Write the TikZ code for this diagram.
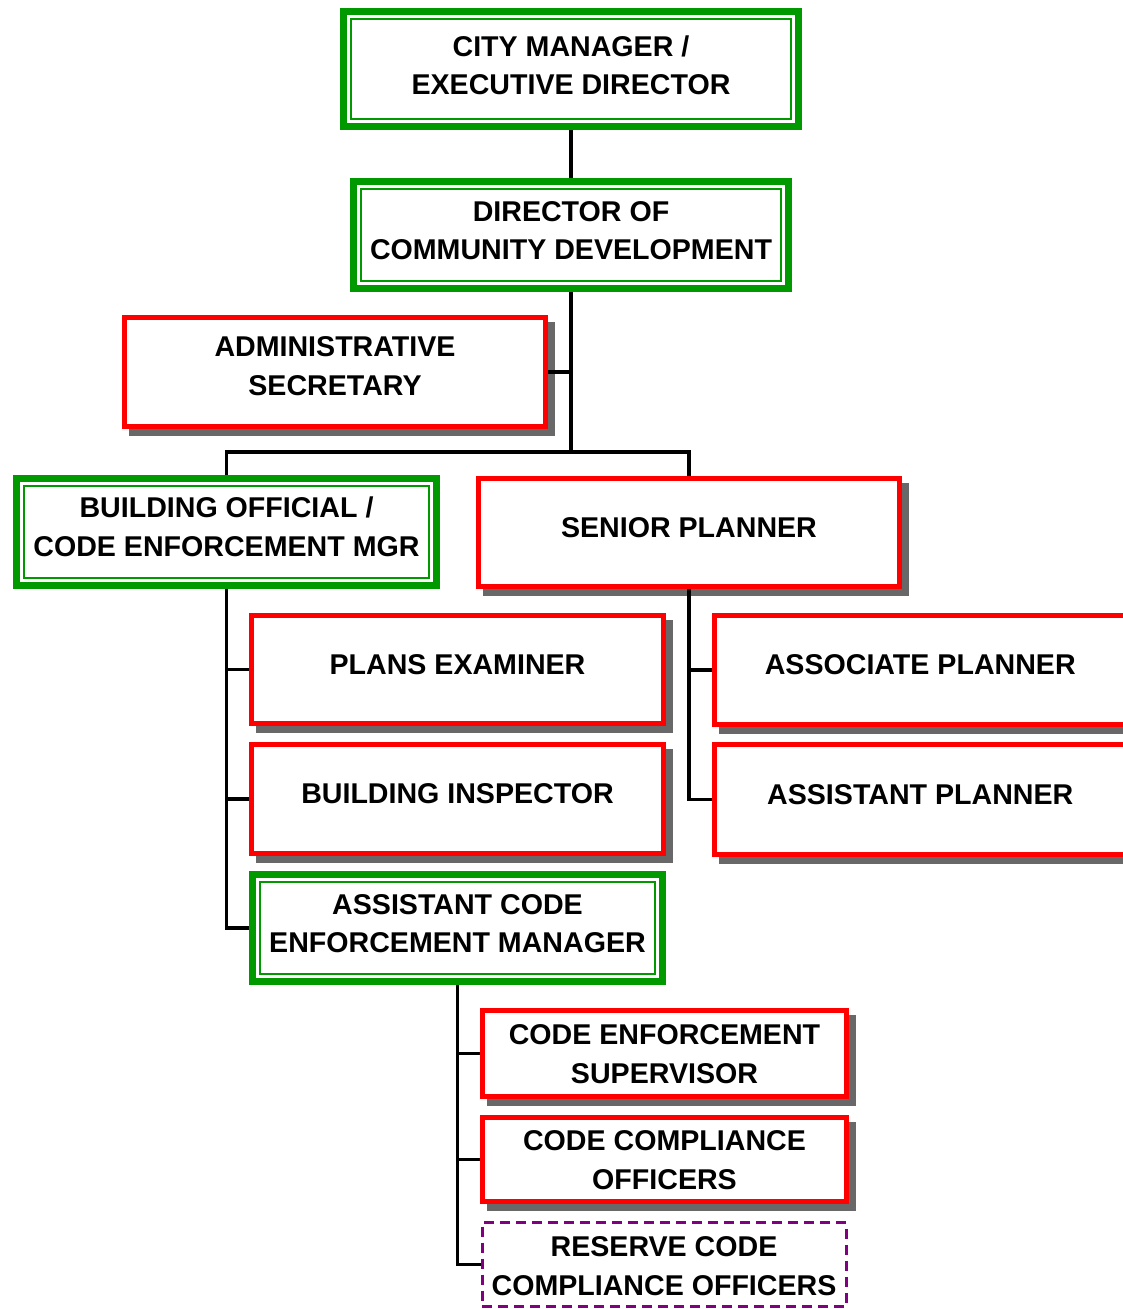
\documentclass[tikz,border=0pt]{standalone}
\usepackage{fontspec}
\setmainfont{Liberation Sans}
\pgfdeclarelayer{background}
\pgfsetlayers{background,main}
\definecolor{chartgreen}{RGB}{0,153,0}
\definecolor{chartred}{RGB}{255,0,0}
\definecolor{chartpurple}{RGB}{128,0,128}
\definecolor{shadowgray}{RGB}{104,104,104}
\tikzset{
  unit/.style={rectangle, fill=white, inner sep=0pt},
  redunit/.style={unit, draw=chartred, line width=5pt},
  greenunit/.style={unit, draw=chartgreen, line width=7pt},
  reserveunit/.style={unit, draw=chartpurple, line width=3pt, dash pattern=on 10pt off 6pt},
  lbl/.style={align=center, font=\fontsize{28.6}{38.5}\selectfont\bfseries, inner sep=0pt},
  link/.style={draw=black, line width=3.5pt}
}
% #1 style, #2 name, #3-#6 border corners (x1,y1,x2,y2), #7 title, #8 title lift
\newcommand\unitbox[8]{%
  \node[#1, minimum width={#5-#3}, minimum height={#6-#4}] (#2) at ({(#3+#5)/2},{(#4+#6)/2}) {};
  \node[lbl] (#2-text) at ([yshift=#8]#2.center) {#7};}
% grey drop shadow behind a box
\newcommand\unitshadow[1]{%
  \begin{pgfonlayer}{background}
    \fill[shadowgray] ([shift={(6.5,6.5)}]#1.north west) rectangle ([shift={(6.5,6.5)}]#1.south east);
  \end{pgfonlayer}}
% thin inner frame of the green boxes
\newcommand\innerrule[1]{%
  \draw[chartgreen, line width=2pt] ([shift={(11,11)}]#1.north west) rectangle ([shift={(-11,-11)}]#1.south east);}

\begin{document}
\begin{tikzpicture}[x=1pt, y=-1pt]
\useasboundingbox (0,0) rectangle (1123,1309);

% management
\unitbox{greenunit}{cm}{343.5}{11.5}{798.5}{126.5}{CITY MANAGER /\\EXECUTIVE DIRECTOR}{3.5pt}
\innerrule{cm}
\unitbox{greenunit}{dcd}{353.5}{181.5}{788.5}{288.5}{DIRECTOR OF\\COMMUNITY DEVELOPMENT}{4.5pt}
\innerrule{dcd}
\unitbox{redunit}{as}{124.5}{317.5}{545.5}{426.5}{ADMINISTRATIVE\\SECRETARY}{6pt}
\unitshadow{as}

% divisions
\unitbox{greenunit}{bo}{16.5}{478.5}{436.5}{585.5}{BUILDING OFFICIAL /\\CODE ENFORCEMENT MGR}{5pt}
\innerrule{bo}
\unitbox{redunit}{sp}{478.5}{478.5}{899.5}{586.5}{SENIOR PLANNER}{5pt}
\unitshadow{sp}

% building side
\unitbox{redunit}{pe}{251.5}{615.5}{663.5}{723.5}{PLANS EXAMINER}{5pt}
\unitshadow{pe}
\unitbox{redunit}{bi}{251.5}{744.5}{663.5}{853.5}{BUILDING INSPECTOR}{5pt}
\unitshadow{bi}
\unitbox{greenunit}{acem}{252.5}{874.5}{662.5}{981.5}{ASSISTANT CODE\\ENFORCEMENT MANAGER}{4.5pt}
\innerrule{acem}

% planning side
\unitbox{redunit}{ap1}{714.5}{615.5}{1126}{724.5}{ASSOCIATE PLANNER}{5pt}
\unitshadow{ap1}
\unitbox{redunit}{ap2}{714.5}{744.5}{1126}{854.5}{ASSISTANT PLANNER}{5pt}
\unitshadow{ap2}

% code enforcement
\unitbox{redunit}{ces}{482.5}{1010.5}{846.5}{1096.5}{CODE ENFORCEMENT\\SUPERVISOR}{-0.5pt}
\unitshadow{ces}
\unitbox{redunit}{cco}{482.5}{1117.5}{846.5}{1201.5}{CODE COMPLIANCE\\OFFICERS}{-0.5pt}
\unitshadow{cco}
\unitbox{reserveunit}{rc}{482}{1222.5}{846}{1306.5}{RESERVE CODE\\COMPLIANCE OFFICERS}{-1.5pt}

% reporting lines
\coordinate (hub) at (571,452);
\draw[link] (cm.south) -- (dcd.north);
\draw[link] (dcd.south) -- (hub);
\draw[link] (as.east) -- (as.east -| dcd.south);
\draw[link] (bo.north) |- (hub) -| (sp.north);

\draw[link] (bo.south) |- (acem.west);
\draw[link] (pe.west) -- (pe.west -| bo.south);
\draw[link] (bi.west) -- (bi.west -| bo.south);

\draw[link] (sp.south) |- (ap2.west);
\draw[link] (ap1.west) -- (ap1.west -| sp.south);

\draw[link] (acem.south) |- (rc.west);
\draw[link] (ces.west) -- (ces.west -| acem.south);
\draw[link] (cco.west) -- (cco.west -| acem.south);
\end{tikzpicture}
\end{document}
